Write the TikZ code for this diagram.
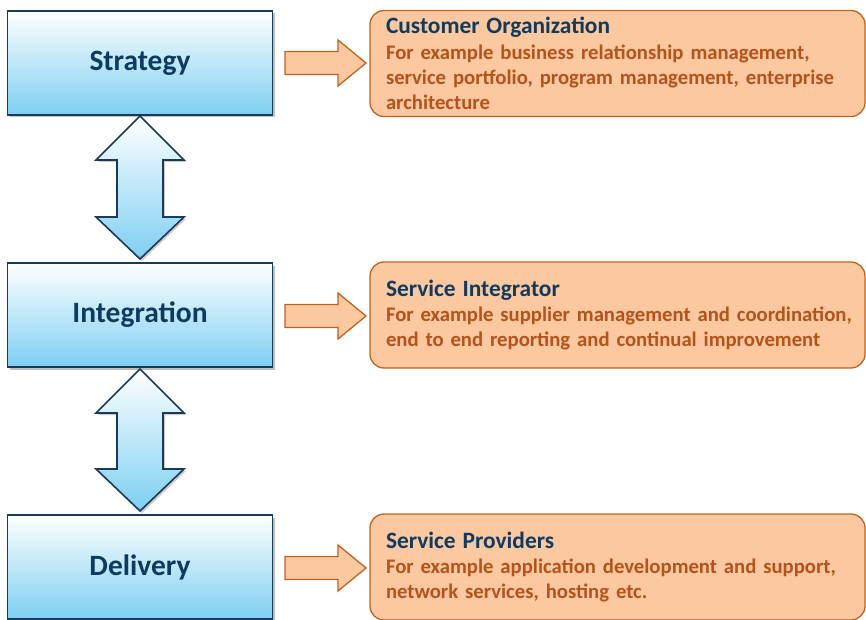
\documentclass[tikz,border=0pt]{standalone}
\usepackage{fontspec}
\setmainfont{Carlito}
\usetikzlibrary{shadows}
\definecolor{navy}{HTML}{1A3A5A}
\definecolor{navytext}{HTML}{0F3B5F}
\definecolor{skyb}{HTML}{7DCFF2}
\definecolor{peach}{HTML}{FBC8A0}
\definecolor{rust}{HTML}{C0621F}
\definecolor{rusttext}{HTML}{B5531A}
\tikzset{
  layerbox/.style={draw=navy, line width=1.6pt, top color=white, bottom color=skyb,
    minimum width=265pt, minimum height=104pt, inner sep=0pt,
    font=\fontsize{29.5}{34}\selectfont\bfseries, text=navytext,
    drop shadow={opacity=0.5, shadow xshift=2.5pt, shadow yshift=-2.5pt}},
  rolebox/.style={draw=rust, line width=1.3pt, fill=peach, rounded corners=14pt,
    minimum width=495pt, minimum height=106pt, inner xsep=16pt, inner ysep=0pt,
    text width=463pt, align=left, text=rusttext,
    font=\fontsize{20.7}{25.2}\selectfont\bfseries},
  blockarr/.style={draw=rust, line width=1.3pt, fill=peach},
  dblarr/.style={draw=navy, line width=1.6pt, top color=white, bottom color=skyb,
    drop shadow={opacity=0.4, shadow xshift=2pt, shadow yshift=-2pt}}
}
\newcommand{\roletitle}[1]{\mbox{\color{navytext}\fontsize{23.4}{25.2}\selectfont #1}}
\begin{document}
\begin{tikzpicture}[x=1pt,y=-1pt]
\useasboundingbox (0,0) rectangle (866,620);
% left layer boxes
\node[layerbox] (strat) at (140,63) {Strategy};
\node[layerbox] (integ) at (140,315) {Integration};
\node[layerbox] (deliv) at (140,567) {Delivery};
% right role boxes
\node[rolebox] (cust) at (617.5,63.5) {\roletitle{Customer Organization}\\\mbox{For example business relationship management,}\\\mbox{service portfolio, program management, enterprise}\\\mbox{architecture}};
\node[rolebox] (sint) at (617.5,315) {\roletitle{Service Integrator}\\\mbox{For example supplier management and coordination,}\\\mbox{end to end reporting and continual improvement}};
\node[rolebox] (sprov) at (617.5,567) {\roletitle{Service Providers}\\\mbox{For example application development and support,}\\\mbox{network services, hosting etc.}};
% right block arrows
\foreach \yc in {63,316,568}{
  \draw[blockarr] (285,\yc-11.5) -- (338,\yc-11.5) -- (338,\yc-23) -- (366,\yc) -- (338,\yc+23) -- (338,\yc+11.5) -- (285,\yc+11.5) -- cycle;
}
% double arrows between layers
\foreach \ya/\yb in {116/259,369/511}{
  \draw[dblarr] (140,\ya) -- (184,\ya+44) -- (163,\ya+44) -- (163,\yb-42) -- (184,\yb-42) -- (140,\yb) -- (96,\yb-42) -- (117,\yb-42) -- (117,\ya+44) -- (96,\ya+44) -- cycle;
}
\end{tikzpicture}
\end{document}
